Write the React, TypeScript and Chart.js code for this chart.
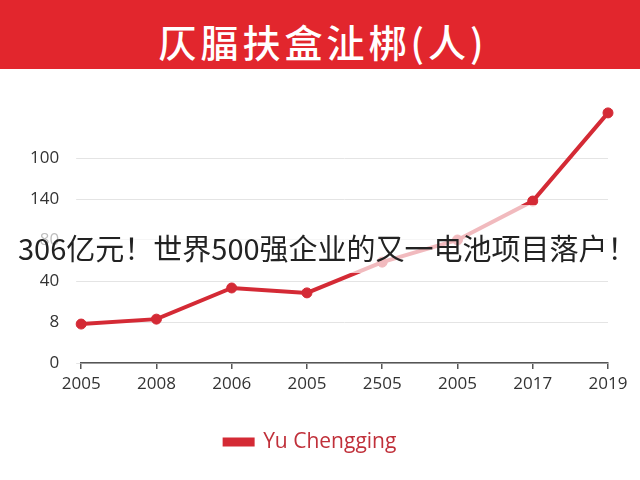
import React, { useEffect, useRef } from "react";
import { Chart, registerables } from "chart.js";

Chart.register(...registerables);

const titleText = "仄腷扶盒沚梆(人)";
const overlayText = "306亿元！世界500强企业的又一电池项目落户！";
const categories = ["2005", "2008", "2006", "2005", "2505", "2005", "2017", "2019"];
const seriesName = "Yu Chengging";
const seriesValues = [0.95, 1.07, 1.83, 1.71, 2.46, 3.0, 3.95, 6.1];
const yTickValues = [0, 1, 2, 3, 4, 5];
const yTickLabels = ["0", "8", "40", "80", "140", "100"];

export default function App() {
  const canvasRef = useRef<HTMLCanvasElement | null>(null);

  useEffect(() => {
    document.body.style.margin = "0";
    const canvas = canvasRef.current;
    if (!canvas) return;
    const red = "#d42a35";
    const chart = new Chart(canvas, {
      type: "line",
      data: {
        labels: categories,
        datasets: [
          {
            label: seriesName,
            data: seriesValues,
            borderColor: red,
            backgroundColor: red,
            borderWidth: 4,
            pointRadius: 5,
            pointBackgroundColor: red,
            pointBorderColor: red,
            pointBorderWidth: 1,
            tension: 0,
            clip: false as any,
          },
        ],
      },
      options: {
        animation: false,
        responsive: false,
        maintainAspectRatio: false,
        layout: { padding: { top: 100.6, left: 13, right: 32, bottom: 17.5 } },
        scales: {
          x: {
            type: "category",
            offset: false,
            grid: {
              drawOnChartArea: false,
              drawTicks: true,
              tickLength: 6,
              color: "#555",
              lineWidth: 1.5,
            },
            border: { display: true, color: "#555", width: 1.5 },
            ticks: {
              color: "#333",
              font: { family: "Open Sans", size: 17 },
              padding: 5,
              maxRotation: 0,
              autoSkip: false,
            },
            afterFit: (scale: any) => {
              scale.height = 58.5;
            },
          },
          y: {
            min: 0,
            max: 6.4,
            afterBuildTicks: (scale: any) => {
              scale.ticks = yTickValues.map((v) => ({ value: v }));
            },
            grid: { color: "#e4e4e4", lineWidth: 1, drawTicks: true, tickLength: 5 },
            border: { display: false },
            ticks: {
              color: "#333",
              font: { family: "Open Sans", size: 17 },
              padding: 17,
              callback: (value: any) => {
                const i = yTickValues.indexOf(Number(value));
                return i >= 0 ? yTickLabels[i] : "";
              },
            },
          },
        },
        plugins: {
          title: { display: false },
          tooltip: { enabled: false },
          legend: {
            display: true,
            position: "bottom",
            labels: {
              boxWidth: 28,
              boxHeight: 5,
              padding: 10,
              color: "#c0303a",
              font: { family: "Open Sans", size: 21 },
            },
          },
        },
      },
    });
    return () => chart.destroy();
  }, []);

  return (
    <div style={{ position: "relative", width: 640, height: 480, overflow: "hidden", background: "#fff" }}>
      <canvas ref={canvasRef} width={640} height={480} style={{ position: "absolute", left: 0, top: 0, width: 640, height: 480 }} />
      <div
        style={{
          position: "absolute",
          left: 0,
          top: 0,
          width: 640,
          height: 69,
          background: "#e2262d",
        }}
      />
      <div
        style={{
          position: "absolute",
          left: 0,
          top: 19,
          width: 642,
          paddingLeft: 4,
          boxSizing: "border-box",
          color: "#fff",
          fontFamily: "'Noto Sans CJK SC', sans-serif",
          fontWeight: 500,
          fontSize: 38,
          letterSpacing: 4,
          lineHeight: "44px",
          textAlign: "center",
          whiteSpace: "nowrap",
        }}
      >
        {titleText}
      </div>
      <div
        style={{
          position: "absolute",
          left: 0,
          top: 205,
          width: 640,
          height: 68,
          background: "rgba(255,255,255,0.68)",
        }}
      />
      <div
        style={{
          position: "absolute",
          left: 18,
          top: 232,
          whiteSpace: "nowrap",
          color: "#222",
          fontFamily: "'Noto Sans CJK SC', sans-serif",
          fontWeight: 400,
          fontSize: 29,
          lineHeight: "31px",
        }}
      >
        {overlayText}
      </div>
    </div>
  );
}
